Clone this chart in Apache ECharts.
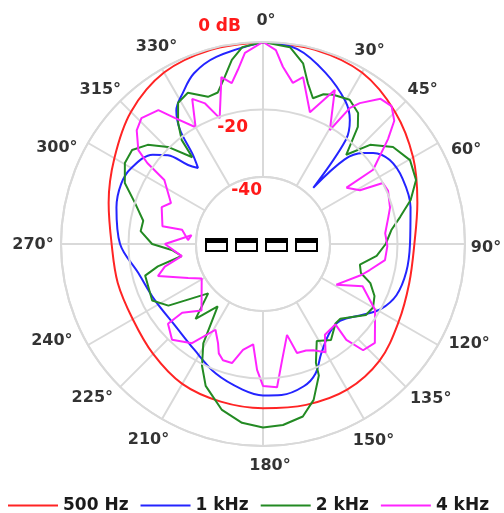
<!DOCTYPE html>
<html>
<head>
<meta charset="utf-8">
<script src="https://cdn.jsdelivr.net/npm/echarts@6/dist/echarts.min.js"></script>
<style>
  html, body { margin: 0; padding: 0; background: #fff; }
  #chart { width: 504px; height: 513px; }
</style>
</head>
<body>
<div id="chart"></div>
<script>
// polar directivity, level in dB against angle in degrees
const seriesNames = ['500 Hz', '1 kHz', '2 kHz', '4 kHz'];
const seriesColors = ['#ff2424', '#2424ff', '#238a23', '#ff24ff'];

const angles500 = [0, 15, 30, 45, 60, 75, 90, 105, 120, 135, 150, 165, 180, 195, 210, 225, 240, 255, 270, 285, 300, 315, 330, 345, 360];
const db500 = [0, -0.3, -1.2, -4.5, -8.5, -12.5, -15, -15, -13.5, -11, -10, -10.5, -11.2, -11.5, -12, -13.8, -15.3, -15.3, -15, -12.5, -9, -4.5, -1.2, -0.3, 0];

const angles1k = [0, 10, 20, 30, 35, 38.5, 41.8, 44, 47.7, 50.4, 56.5, 65, 76, 90, 101, 111, 119, 125, 135, 143, 152, 158, 164, 173, 180, 188, 200, 213, 227, 243, 257, 270, 284, 293, 300, 309, 313, 316.5, 319.5, 322, 324, 327, 332, 338, 346, 360];
const db1k = [0, -1.2, -5.8, -11, -15, -20.4, -37.5, -25, -19.8, -17.5, -14.8, -14.2, -14.8, -16.3, -16.6, -17.5, -20, -23.4, -27.6, -27, -23.1, -18.4, -16, -14.8, -15, -16.3, -19, -22.5, -24.3, -23.7, -21.9, -17.5, -15.1, -14.2, -14.8, -17.8, -21.3, -27.6, -30.2, -25.8, -18, -12.7, -9.2, -5.3, -2.7, 0];

const angles2k = [0, 7.8, 12.5, 15.6, 18.9, 22, 25.2, 31, 36, 39, 43, 47.2, 53.3, 60.3, 67.3, 73.4, 78.8, 83.8, 90, 96, 102, 106.5, 110, 115, 120, 124.6, 134, 137.6, 144.7, 151, 156, 157, 162, 167, 173.7, 180, 186.7, 193.9, 202, 206.6, 211, 216, 222, 228, 236.9, 243, 255, 258, 261.6, 266, 270, 276, 281, 287.8, 293.8, 300.4, 305.7, 310.7, 315.6, 320.8, 322, 325, 329, 333.6, 339.5, 343.4, 347, 350.4, 354, 360];
const db2k = [0, -1, -5, -10.4, -14.2, -12, -11, -10, -11.9, -15.2, -23.7, -16.6, -11.8, -9.7, -10.7, -14.2, -18.4, -21.6, -23.5, -26, -30.5, -29.6, -26, -23.4, -22.2, -22.8, -28, -28, -25, -27, -21.3, -17.5, -11.3, -7.4, -5.9, -5.5, -6.5, -9.2, -14.5, -19.5, -25.5, -37, -30, -38, -26.4, -23, -23.7, -28, -35.5, -33, -27, -23.4, -23.7, -20, -15.1, -12.4, -12.1, -14.8, -19.6, -26.7, -20.7, -16, -11, -9.8, -13.3, -13, -9.2, -4.5, -1.2, 0];

const angles4k = [0, 3.8, 6.4, 10.5, 13.5, 19.6, 25, 30.4, 32.6, 34.5, 39, 43, 46.8, 50, 56, 56, 61, 63, 67, 74, 78, 85, 91, 97.5, 103.7, 107.5, 119, 113, 120.5, 131.5, 136.7, 139, 138, 145.7, 150, 154.7, 158, 162.7, 165.2, 170.7, 174.4, 180, 182.7, 185.6, 190.7, 194.6, 199, 202, 204.4, 209, 215.6, 223.5, 230, 229.6, 222.7, 240.6, 245.6, 253, 257, 261.5, 270, 277, 273, 280, 280, 290, 294, 303, 305, 307, 312, 316, 322, 325, 330, 334, 337.6, 341, 346, 349, 351.8, 354.6, 360];
const db4k = [0, -2.3, -7, -11.3, -9, -18.4, -9.5, -20.7, -12, -9.2, -4.5, -4, -6.5, -11.5, -20.5, -30, -27, -20, -19.6, -20.7, -21.9, -23.5, -23, -23.4, -27.3, -29.3, -35, -27.8, -21.3, -15.6, -16.6, -22.2, -27.8, -27.3, -22.8, -25, -25.8, -26, -32, -24.9, -17.2, -17.8, -22.5, -30, -27.9, -23.4, -23.4, -24.9, -27.6, -30.8, -23.7, -20.7, -23.1, -28.4, -33, -39, -35.5, -27.3, -30, -35.5, -30.8, -38.5, -37.6, -35.5, -29.6, -27.9, -30, -25, -18, -13.6, -9.5, -8, -9.5, -14.2, -19.9, -12, -14.8, -20.4, -8.9, -11.3, -7.7, -3, 0];

const radiusTicks = [0, -20, -40];
const angleTicks = [0, 30, 45, 60, 90, 120, 135, 150, 180, 210, 225, 240, 270, 300, 315, 330];
// pixel nudges so the angle labels sit where the reference puts them
const tickLabelNudge = [[3, 0], [-5, 0], [2, 4], [10, 17], [0, 4], [13, -12], [10, -3], [-1, 4], [7, -1], [-3, 3], [-13, -4], [-18, -15], [-7, 1], [-13, 15], [-5, 4], [5, -4]];

const curves = [[angles500, db500], [angles1k, db1k], [angles2k, db2k], [angles4k, db4k]];

const gridColor = '#d9d9d9';
const center = [263, 244];
const fontBold = { fontFamily: 'DejaVu Sans', fontWeight: 'bold' };

const chart = echarts.init(document.getElementById('chart'));

const lineSeries = curves.map((c, i) => ({
    name: seriesNames[i],
    type: 'line',
    coordinateSystem: 'polar',
    polarIndex: 0,
    symbol: 'none',
    smooth: i < 2 ? 0.35 : false,
    animation: false,
    color: seriesColors[i],
    lineStyle: { width: 2, color: seriesColors[i] },
    data: c[0].map((a, k) => [c[1][k], a])
}));

const option = {
    animation: false,
    polar: [
        { center: center, radius: [67, 202] },
        { center: center, radius: [134.5, 202] },
        { center: center, radius: [0, 223] }
    ],
    angleAxis: [
        {
            polarIndex: 0, type: 'value', min: 0, max: 360, interval: 30, startAngle: 90, clockwise: true,
            axisLine: { lineStyle: { color: gridColor, width: 2 } },
            splitLine: { lineStyle: { color: gridColor, width: 2 } },
            axisTick: { show: false }, axisLabel: { show: false }
        },
        {
            polarIndex: 1, type: 'value', min: 0, max: 360, interval: 45, startAngle: 90, clockwise: true,
            axisLine: { show: false },
            splitLine: { lineStyle: { color: gridColor, width: 2 } },
            axisTick: { show: false }, axisLabel: { show: false }
        },
        { polarIndex: 2, type: 'value', min: 0, max: 360, startAngle: 90, clockwise: true, show: false }
    ],
    radiusAxis: [
        {
            polarIndex: 0, type: 'value', min: -40, max: 0, interval: 20, z: 10,
            axisLine: { show: false }, axisTick: { show: false },
            splitLine: { lineStyle: { color: gridColor, width: 2 } },
            axisLabel: {
                margin: 0,
                formatter: v => {
                    if (v === radiusTicks[0]) return '{top|0 dB}';
                    return v === radiusTicks[1] ? '{mid|-20}' : '{low|-40}';
                },
                rich: {
                    top: { ...fontBold, fontSize: 17, color: '#ff1a1a', padding: [0, 22, 30, 0] },
                    mid: { ...fontBold, fontSize: 17, color: '#ff1a1a', padding: [36, 15, 0, 0] },
                    low: { ...fontBold, fontSize: 17, color: '#ff1a1a', padding: [28, 1, 0, 0] }
                }
            }
        },
        { polarIndex: 1, type: 'value', min: -40, max: 0, show: false },
        { polarIndex: 2, type: 'value', min: 0, max: 1, show: false }
    ],
    legend: {
        data: seriesNames,
        icon: 'rect',
        left: 3,
        top: 492,
        itemWidth: 50,
        itemHeight: 2,
        itemGap: 12,
        textStyle: { ...fontBold, fontSize: 17, color: '#1a1a1a' }
    },
    graphic: [0, 1, 2, 3].flatMap(k => [
        { type: 'rect', left: 205 + 30 * k, top: 238, shape: { width: 23, height: 14 }, style: { fill: '#000' }, z: 50 },
        { type: 'rect', left: 207 + 30 * k, top: 243, shape: { width: 19, height: 7 }, style: { fill: '#fff' }, z: 51 }
    ]),
    series: lineSeries.concat([{
        type: 'scatter',
        coordinateSystem: 'polar',
        polarIndex: 2,
        symbolSize: 0,
        silent: true,
        clip: false,
        animation: false,
        data: angleTicks.map((a, i) => ({
            value: [1, a],
            label: { offset: tickLabelNudge[i] }
        })),
        label: {
            show: true,
            position: 'inside',
            formatter: p => p.value[1] + '°',
            ...fontBold,
            fontSize: 16,
            color: '#000',
            textBorderWidth: 0
        }
    }])
};

chart.setOption(option);
</script>
</body>
</html>
